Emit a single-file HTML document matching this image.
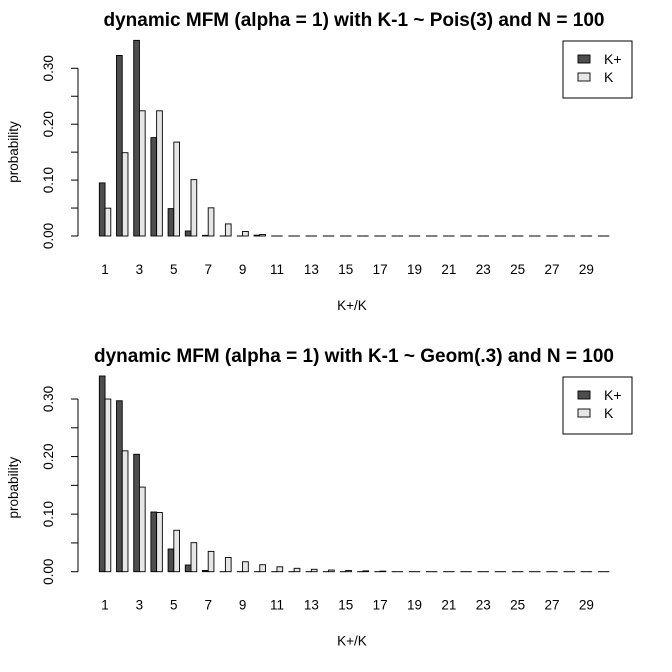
<!DOCTYPE html>
<html><head><meta charset="utf-8">
<style>
html,body{margin:0;padding:0;background:#fff;}
svg{display:block;font-family:"Liberation Sans",sans-serif;}
</style></head>
<body>
<svg id="chart" width="672" height="672" viewBox="0 0 672 672" xmlns="http://www.w3.org/2000/svg"></svg>
<script>
const categories = [1,2,3,4,5,6,7,8,9,10,11,12,13,14,15,16,17,18,19,20,21,22,23,24,25,26,27,28,29,30];
const xTickLabels = ["1","3","5","7","9","11","13","15","17","19","21","23","25","27","29"];
const yTicks = [0,0.05,0.10,0.15,0.20,0.25,0.30];
const yTickLabels = ["0.00","","0.10","","0.20","","0.30"];
const poisKplus = [0.095,0.323,0.350,0.176,0.049,0.009,0.0012,0.0003,0.0008,0.0015,0.0005,0.0001,0,0,0,0,0,0,0,0,0,0,0,0,0,0,0,0,0,0];
const poisK = [0.0498,0.149,0.224,0.224,0.168,0.1008,0.0504,0.0216,0.0081,0.0027,0.0008,0.0002,0.0001,0,0,0,0,0,0,0,0,0,0,0,0,0,0,0,0,0];
const geomKplus = [0.340,0.297,0.204,0.1037,0.0394,0.0116,0.0022,0.0004,0.0001,0,0,0,0,0,0,0,0,0,0,0,0,0,0,0,0,0,0,0,0,0];
const geomK = [0.300,0.210,0.147,0.1029,0.072,0.0504,0.0353,0.0247,0.0173,0.0121,0.0085,0.0059,0.0042,0.0029,0.002,0.0014,0.001,0.0007,0.0005,0.0003,0.0002,0.0002,0.0001,0.0001,0.0001,0,0,0,0,0];

const NS="http://www.w3.org/2000/svg";
const svg=document.getElementById('chart');
function mk(tag,attrs,parent){const e=document.createElementNS(NS,tag);for(const k in attrs)e.setAttribute(k,attrs[k]);(parent||svg).appendChild(e);return e;}

const unitPx=5.73, x0=93.6;
function xScale(u){return x0+u*unitPx;}

function panel(cfg){
  const g=mk('g',{});
  
  
  const yScale=v=>cfg.base-v*cfg.ppu;
  const t=mk('text',{x:354,y:cfg.titleY,'text-anchor':'middle','font-size':'19','font-weight':'bold',fill:'#000'},g);
  t.textContent=cfg.title;
  
  
  categories.forEach((c,i)=>{
    const u=3*i+1;
    [[cfg.a,'#4d4d4d','bar-kplus-'+c],[cfg.b,'#e6e6e6','bar-k-'+c]].forEach((s,j)=>{
      const v=s[0][i];
      const y=yScale(v);
      const h=cfg.base-y;
      let r;
      if(h<0.5){
        r=mk('line',{x1:xScale(u+j),x2:xScale(u+j+1),y1:cfg.base,y2:cfg.base,stroke:'#000','stroke-width':'1'},g);
      } else {
        r=mk('rect',{x:xScale(u+j),y:y,width:unitPx,height:h,fill:s[1],stroke:'#000','stroke-width':'0.9'},g);
      }
      
      
    });
  });
  const ax=mk('g',{},g);
  
  
  mk('line',{x1:78,x2:78,y1:yScale(yTicks[0]),y2:yScale(yTicks[yTicks.length-1]),stroke:'#000','stroke-width':'1'},ax);
  yTicks.forEach((v,i)=>{
    const y=yScale(v);
    mk('line',{x1:71,x2:78,y1:y,y2:y,stroke:'#000','stroke-width':'1'},ax);
    if(yTickLabels[i]){
      const tl=mk('text',{x:0,y:0,'text-anchor':'middle','font-size':'13.5',transform:`translate(53,${y}) rotate(-90)`},ax);
      tl.textContent=yTickLabels[i];
      
      
    }
  });
  const yl=mk('text',{x:0,y:0,'text-anchor':'middle','font-size':'13.5',transform:`translate(18,${cfg.base-84}) rotate(-90)`},g);
  yl.textContent='probability';
  
  
  xTickLabels.forEach((l,i)=>{
    const u=3*(2*i)+2;
    const xt=mk('text',{x:xScale(u),y:cfg.base+38,'text-anchor':'middle','font-size':'13.5'},g);
    xt.textContent=l;
    
    
  });
  const xl=mk('text',{x:352,y:cfg.base+74,'text-anchor':'middle','font-size':'13.5'},g);
  xl.textContent='K+/K';
  
  
  const lg=mk('g',{},g);
  
  
  const ly=cfg.legY;
  mk('rect',{x:563,y:ly,width:69,height:57,fill:'#fff',stroke:'#000','stroke-width':'1'},lg);
  [['#4d4d4d','K+',14],['#e6e6e6','K',32]].forEach(e=>{
    mk('rect',{x:578,y:ly+e[2],width:12,height:8,fill:e[0],stroke:'#000','stroke-width':'0.9'},lg);
    const tx=mk('text',{x:604,y:ly+e[2]+9,'font-size':'14'},lg);
    tx.textContent=e[1];
    
    
  });
}
panel({name:'panel-poisson',title:'dynamic MFM (alpha = 1) with K-1 ~ Pois(3) and N = 100',titleY:26,base:236,ppu:559,a:poisKplus,b:poisK,legY:41});
panel({name:'panel-geometric',title:'dynamic MFM (alpha = 1) with K-1 ~ Geom(.3) and N = 100',titleY:362,base:571.7,ppu:575.6,a:geomKplus,b:geomK,legY:377});
</script>
</body></html>
